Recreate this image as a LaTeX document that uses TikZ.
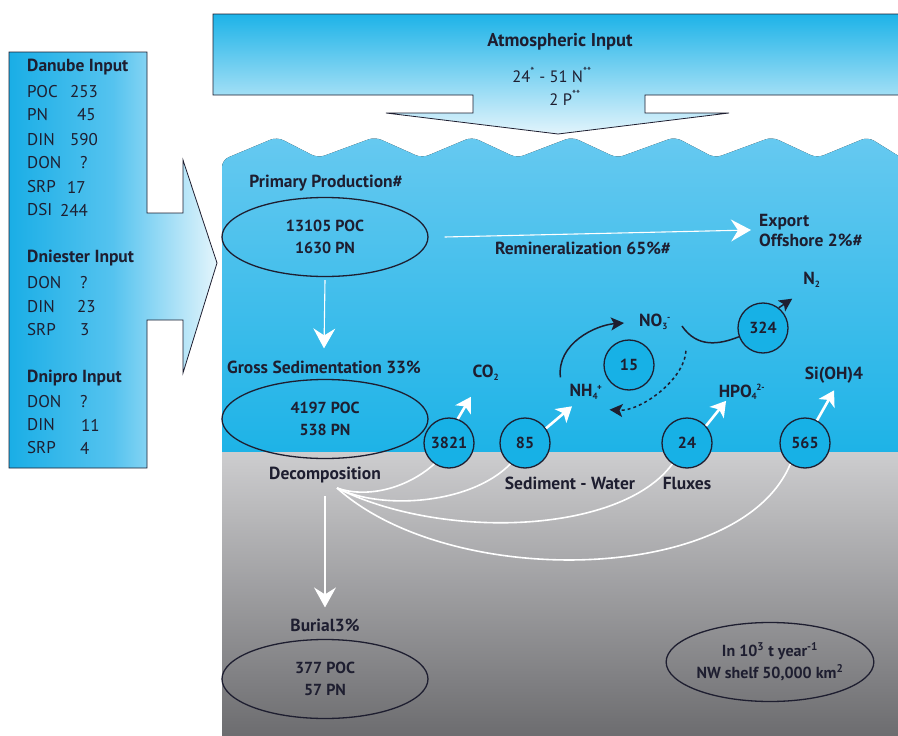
\documentclass[tikz,border=0pt]{standalone}
\usepackage{fontspec}
\setmainfont{PT Sans}
\usetikzlibrary{arrows.meta,shapes.geometric,calc}
\definecolor{txt}{HTML}{1E1E30}
\definecolor{waterTop}{HTML}{66C9F0}
\definecolor{waterBot}{HTML}{17B1E6}
\definecolor{atmTop}{HTML}{1DB3E8}
\definecolor{atmBot}{HTML}{E2F4FC}
\definecolor{boxL}{HTML}{1AAEE6}
\definecolor{boxM}{HTML}{55C3EF}
\definecolor{boxR}{HTML}{E4F5FC}
\definecolor{sedTop}{HTML}{CDCDCF}
\definecolor{sedBot}{HTML}{6B6B6E}
\newcommand\csub[1]{\textsubscript{\fontsize{9}{9}\selectfont #1}}
\newcommand\csup[1]{\kern-1pt\textsuperscript{\fontsize{9}{9}\selectfont #1}}
\begin{document}
\begin{tikzpicture}[x=1pt,y=-1pt,
  lbl/.style={font=\fontsize{17.5}{19}\selectfont\bfseries, text=txt, inner sep=1pt},
  dat/.style={font=\fontsize{17}{19}\selectfont, text=txt, inner sep=0pt, anchor=west},
  hdr/.style={font=\fontsize{17.5}{19}\selectfont\bfseries, text=txt, inner sep=0pt, anchor=west},
  ell/.style={ellipse, draw=txt, line width=1.3pt, minimum width=206pt, minimum height=79pt, inner sep=0pt, align=center, font=\fontsize{16}{22}\selectfont\bfseries, text=txt},
  circ/.style={circle, draw=txt, line width=1.3pt, minimum size=50pt, inner sep=0pt, font=\fontsize{16}{18}\selectfont\bfseries, text=txt, fill=waterBot},
  warr/.style={draw=white, line width=1.1pt, -{Stealth[length=20pt,width=22pt,inset=7pt]}},
  warrb/.style={draw=white, line width=2.6pt, -{Stealth[length=15pt,width=18pt,inset=4pt]}},
  wcurve/.style={draw=white, line width=1.6pt},
  barr/.style={draw=txt, line width=1.5pt, -{Stealth[length=13pt,width=13pt,inset=3pt]}},
  bline/.style={draw=txt, line width=1.5pt}
]
\useasboundingbox (0,0) rectangle (898,736);
\clip (0,0) rectangle (898,736);
\fill[white] (0,0) rectangle (898,736);

% water
\fill[top color=waterTop, bottom color=waterBot, rounded corners=7pt]
  (222,480) -- (222,160) -- (277,137) -- (318,158) -- (375,137) -- (422,158) -- (472,137) -- (517,158)
  -- (572,137) -- (617,158) -- (675,137) -- (715,158) -- (772,137) -- (817,158) -- (868,137) -- (905,160)
  -- (905,480) -- cycle;
% sediment
\fill[top color=sedTop, bottom color=sedBot] (222,452) rectangle (905,740);

% atmospheric box
\path[draw=txt, line width=0.8pt, top color=atmTop, bottom color=atmBot]
  (213,14) -- (910,14) -- (910,95) -- (645,95) -- (645,113) -- (729,113) -- (558,134) -- (386,113)
  -- (473,113) -- (473,95) -- (213,95) -- cycle;
\node[lbl, font=\fontsize{18.5}{20}\selectfont\bfseries] (atm) at (560,42) {Atmospheric Input};
\node[lbl, font=\fontsize{16.5}{18}\selectfont] (atmn) at (552,75) {24\textsuperscript{*} - 51 N\textsuperscript{**}};
\node[lbl, font=\fontsize{16.5}{18}\selectfont] (atmp) at (565,98) {2 P\textsuperscript{**}};

% left river box
\path[draw=txt, line width=0.8pt, left color=boxL, right color=boxR, middle color=boxM]
  (9,52) -- (147,52) -- (147,213) -- (183,213) -- (183,160) -- (217,263) -- (183,373) -- (183,320)
  -- (147,320) -- (147,468) -- (9,468) -- cycle;
\node[hdr] (dan) at (27,67) {Danube Input};
\node[dat] (dpoc) at (27,92) {POC}; \node[dat] (dpocv) at (70,92) {253};
\node[dat] (dpn) at (27,115) {PN}; \node[dat] (dpnv) at (77,115) {45};
\node[dat] (ddin) at (27,140) {DIN}; \node[dat] (ddinv) at (70,140) {590};
\node[dat] (ddon) at (27,163) {DON}; \node[dat] (ddonv) at (80,163) {?};
\node[dat] (dsrp) at (27,187) {SRP}; \node[dat] (dsrpv) at (67,187) {17};
\node[dat] (ddsi) at (27,210) {DSI}; \node[dat] (ddsiv) at (60,210) {244};
\node[hdr] (dni) at (27,258) {Dniester Input};
\node[dat] (nidon) at (27,283) {DON}; \node[dat] (nidonv) at (80,283) {?};
\node[dat] (nidin) at (27,307) {DIN}; \node[dat] (nidinv) at (77,307) {23};
\node[dat] (nisrp) at (27,330) {SRP}; \node[dat] (nisrpv) at (80,330) {3};
\node[hdr] (dnp) at (27,378) {Dnipro Input};
\node[dat] (npdon) at (27,402) {DON}; \node[dat] (npdonv) at (80,402) {?};
\node[dat] (npdin) at (27,425) {DIN}; \node[dat] (npdinv) at (81,425) {11};
\node[dat] (npsrp) at (27,448) {SRP}; \node[dat] (npsrpv) at (80,448) {4};

% primary production
\node[lbl] (ppl) at (326,183) {Primary Production\#};
\node[ell] (pp) at (325,237) {13105 POC\\1630 PN};
\node[lbl, anchor=west, align=left, font=\fontsize{17.5}{20}\selectfont\bfseries] (exp) at (758,230) {Export\\Offshore 2\%\#};
\node[lbl] (rem) at (583,248) {Remineralization 65\%\#};
\draw[warr] ([xshift=16pt]pp.east) -- ([xshift=-7pt]exp.west);

% gross sedimentation
\node[lbl] (gsl) at (324,367) {Gross Sedimentation 33\%};
\draw[warr] ([yshift=-3pt]pp.south) -- ([yshift=11pt]gsl.north);
\node[ell] (gs) at (325,419) {4197 POC\\538 PN};

% circles
\node[circ] (c3821) at (449,443) {3821};
\node[circ] (c85) at (525,443) {85};
\node[circ] (c24) at (687,443) {24};
\node[circ] (c565) at (805,443) {565};
\node[circ] (c15) at (629,365) {15};
\node[circ] (c324) at (763,328) {324};

% chemical labels
\node[lbl] (co2) at (486,373) {CO\csub{2}};
\node[lbl] (nh4) at (586,392) {NH\csub{4}\csup{+}};
\node[lbl] (no3) at (655,322) {NO\csub{3}\csup{-}};
\node[lbl] (hpo4) at (742,392) {HPO\csub{4}\csup{2-}};
\node[lbl] (sioh) at (834,375) {Si(OH)4};
\node[lbl] (n2) at (812,280) {N\csub{2}};

% white flux arrows
\draw[warrb] (c3821.70) -- ++(13,-22);
\draw[warrb] (c85.35) -- ++(26,-22);
\draw[warrb] (c24.42) -- ++(20,-25);
\draw[warrb] (c565.62) -- ++(17,-30);

% nitrogen cycle
\draw[barr] ($(nh4.north west)+(-8,-6)$) .. controls +(-4,-34) and +(-28,2) .. ($(no3.west)+(-14,1)$);
\draw[barr, dashed] ($(no3.south east)+(14,20)$) .. controls +(-2,30) and +(30,2) .. ($(nh4.south east)+(6,9)$);
\draw[bline] ($(no3.east)+(10,4)$) .. controls +(15,22) and +(-20,8) .. (c324.200);
\draw[barr] (c324.52) -- ($(n2.south west)+(-10,10)$);

% decomposition and sediment
\node[lbl] (dec) at (325,475) {Decomposition};
\coordinate (dsrc) at (337,488);
\draw[wcurve] (dsrc) .. controls (365,498) and (405,490) .. (c3821.235);
\draw[wcurve] (dsrc) .. controls (380,510) and (470,505) .. (c85.235);
\draw[wcurve] (dsrc) .. controls (440,540) and (620,535) .. (c24.235);
\draw[wcurve] (dsrc) .. controls (450,590) and (740,585) .. (c565.235);
\node[lbl] (sw) at (570,483) {Sediment - Water};
\node[lbl] (flx) at (687,483) {Fluxes};

\node[lbl] (bur) at (325,625) {Burial3\%};
\draw[warr] ([yshift=-12pt]dec.south) -- ([yshift=10pt]bur.north);
\node[ell] (bu) at (325,679) {377 POC\\57 PN};

\node[ell] (units) at (770,662) {In 10\textsuperscript{3} t year\textsuperscript{-1}\\NW shelf 50,000 km\textsuperscript{2}};
\end{tikzpicture}
\end{document}
